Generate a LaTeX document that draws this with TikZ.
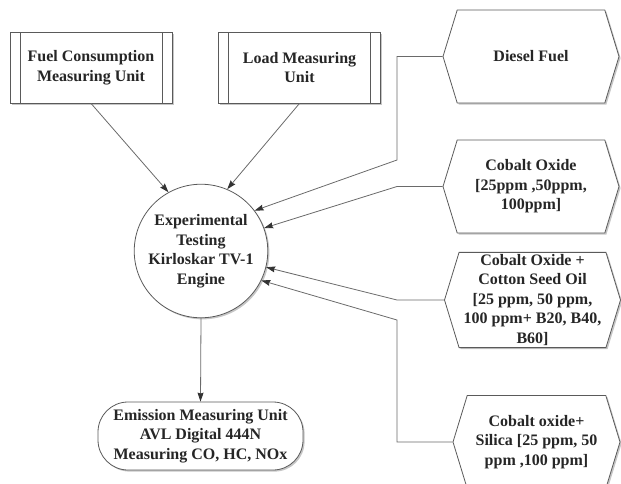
\documentclass[tikz,border=0pt]{standalone}
\usepackage{fontspec}
\setmainfont{Liberation Serif}
\usepackage{tikz}
\usetikzlibrary{shapes, shapes.symbols, arrows.meta, positioning, calc, shadows}
\definecolor{edgegray}{HTML}{5A5A5A}
\definecolor{linegray}{HTML}{6A6A6A}
\tikzstyle{base} = [draw=edgegray, thick, fill=white, align=center, text=black!85, font=\bfseries\fontsize{16}{19.5}\selectfont, inner sep=2pt, drop shadow={shadow xshift=1.6pt, shadow yshift=-1.6pt, opacity=0.45}]
\tikzstyle{unit} = [base, rectangle, minimum width=162pt, minimum height=71pt, path picture={\draw[edgegray, thick] ([xshift=10pt]path picture bounding box.north west) -- ([xshift=10pt]path picture bounding box.south west); \draw[edgegray, thick] ([xshift=-10pt]path picture bounding box.north east) -- ([xshift=-10pt]path picture bounding box.south east);}]
\tikzstyle{engine} = [base, circle, minimum size=118pt]
\tikzstyle{fuelhex} = [base, signal, signal to=west and east, signal pointer angle=146, minimum width=176pt, minimum height=93pt]
\tikzstyle{emission} = [base, rectangle, rounded corners=30pt, minimum width=205pt, minimum height=68pt]
\tikzstyle{link} = [linegray, thick, -{Stealth[length=9pt, width=6pt, inset=1pt, black!80]}]

\begin{document}
\begin{tikzpicture}[x=1pt, y=-1pt]
        \useasboundingbox (0,0) rectangle (621,483);

        % Measuring units
        \node[unit] (fuelunit) at (91,67.5) {Fuel Consumption\\Measuring Unit};
        \node[unit] (loadunit) at (299.5,67.5) {Load Measuring\\Unit};

        % Engine
        \node[engine] (engine) at (201,251) {Experimental\\Testing\\Kirloskar TV-1\\Engine};

        % Emission
        \node[emission] (avl) at (200.5,436) {Emission Measuring Unit\\AVL Digital 444N\\Measuring CO, HC, NOx};

        % Fuels
        \node[fuelhex] (diesel) at (531,56.5) {Diesel Fuel};
        \node[fuelhex] (cobalt) at (531,186.5) {Cobalt Oxide\\{[}25ppm ,50ppm,\\100ppm{]}};
        \node[fuelhex] (cotton) at (532.5,300) {Cobalt Oxide +\\Cotton Seed Oil\\{[}25 ppm, 50 ppm,\\100 ppm+ B20, B40,\\B60{]}};
        \node[fuelhex, minimum width=167pt] (silica) at (536.5,442) {Cobalt oxide+\\Silica {[}25 ppm, 50\\ppm ,100 ppm{]}};

        % Bends
        \coordinate (bendA) at (397,160);
        \coordinate (bendB) at (397,186.5);
        \coordinate (bendC) at (397,300);
        \coordinate (bendD) at (397,320);

        % Connectors
        \draw[link] (fuelunit.south) -- (engine.119);
        \draw[link] (loadunit.south) -- (engine.67);
        \draw[link] (diesel.west) -| (bendA) -- (engine.37);
        \draw[link] (cobalt.west) -- (bendB) -- (engine.20);
        \draw[link] (cotton.west) -- (bendC) -- (engine.-14);
        \draw[link] (silica.west) -| (bendD) -- (engine.-26);
        \draw[link] (engine.south) -- (avl.north);

    \end{tikzpicture}
\end{document}
